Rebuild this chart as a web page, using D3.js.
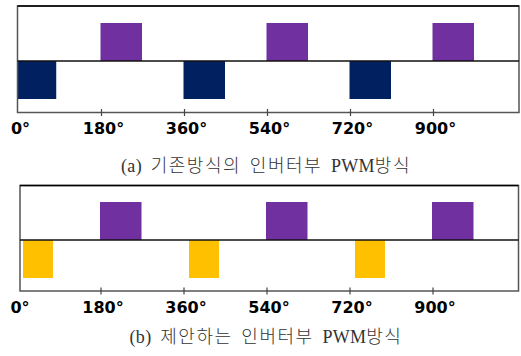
<!DOCTYPE html>
<html>
<head>
<meta charset="utf-8">
<script src="https://cdn.jsdelivr.net/npm/d3@7"></script>
<style>
  body { margin: 0; background: #fff; }
  svg { display: block; }
</style>
</head>
<body>
<div id="chart"></div>
<script>
// angles (deg) and labels on the bottom axis
const tickAngles = [0, 180, 360, 540, 720, 900];
const tickLabels = ["0°", "180°", "360°", "540°", "720°", "900°"];

// pulses as [start, end] in degrees
const upperA = [[180, 270], [540, 630], [900, 990]];
const lowerA = [[0, 84], [360, 450], [720, 810]];
const upperB = [[180, 270], [540, 630], [900, 990]];
const lowerB = [[13, 78], [373, 438], [733, 798]];

const captionA = "(a) 기존방식의 인버터부 PWM방식";
const captionB = "(b) 제안하는 인버터부 PWM방식";

const W = 521, H = 356;
const svg = d3.select('#chart').append('svg')
  .attr('width', W)
  .attr('height', H);

// panel layouts
const panels = [
  {upper: upperA, lower: lowerA, lowColor: '#002060', caption: captionA,
   box: {l: 17.5, r: 519, t: 6, b: 112.5}, mid: 61, amp: 38,
   x0: 17.5, labelY: 134, capY: 172},
  {upper: upperB, lower: lowerB, lowColor: '#FFC000', caption: captionB,
   box: {l: 20, r: 518.5, t: 185.5, b: 291}, mid: 240, amp: 38,
   x0: 17, labelY: 313, capY: 343}
];

// split a caption into hangul / other runs
function runs(str){
  return str.match(/[\uAC00-\uD7A3]+|[^\uAC00-\uD7A3]+/g)
    .map(s => ({text: s, ko: /[\uAC00-\uD7A3]/.test(s)}));
}

panels.forEach(function(p){
  const x = d3.scaleLinear()
    .domain([0, 1080])
    .range([p.x0, p.x0 + 6 * 83]);
  const y = d3.scaleLinear()
    .domain([-1, 1])
    .range([p.mid + p.amp, p.mid - p.amp]);

  const g = svg.append('g');

  // pulses above the line
  g.selectAll('.up')
    .data(p.upper)
    .enter()
    .append('rect')
    .attr('x', d => x(d[0]))
    .attr('width', d => x(d[1]) - x(d[0]))
    .attr('y', y(1))
    .attr('height', y(0) - y(1))
    .style('fill', '#7030A0');

  // pulses below the line
  g.selectAll('.low')
    .data(p.lower)
    .enter()
    .append('rect')
    .attr('x', d => x(d[0]))
    .attr('width', d => x(d[1]) - x(d[0]))
    .attr('y', y(0))
    .attr('height', y(-1) - y(0))
    .style('fill', p.lowColor);

  // frame
  g.append('rect')
    .attr('x', p.box.l)
    .attr('y', p.box.t)
    .attr('width', p.box.r - p.box.l)
    .attr('height', p.box.b - p.box.t)
    .style('fill', 'none')
    .style('stroke', '#555')
    .style('stroke-width', 1.5);
  g.append('line')
    .attr('x1', p.box.l).attr('x2', p.box.r)
    .attr('y1', p.box.t).attr('y2', p.box.t)
    .style('stroke', '#000')
    .style('stroke-width', 1.5);

  // zero line
  g.append('line')
    .attr('x1', p.box.l).attr('x2', p.box.r)
    .attr('y1', y(0)).attr('y2', y(0))
    .style('stroke', '#111')
    .style('stroke-width', 1.5);

  // tick marks
  g.selectAll('.tick')
    .data(tickAngles.slice(1))
    .enter()
    .append('line')
    .attr('x1', d => x(d) + 1).attr('x2', d => x(d) + 1)
    .attr('y1', p.box.b - 3.5).attr('y2', p.box.b + 3.5)
    .style('stroke', '#444')
    .style('stroke-width', 1.2);

  // tick labels
  g.selectAll('.lab')
    .data(tickAngles)
    .enter()
    .append('text')
    .attr('x', d => x(d) + 3)
    .attr('y', p.labelY)
    .attr('text-anchor', 'middle')
    .style('font-family', '"DejaVu Sans", sans-serif')
    .style('font-weight', 'bold')
    .style('font-size', '16px')
    .style('fill', '#000')
    .text((d, i) => tickLabels[i]);

  // caption
  const cap = g.append('text')
    .attr('x', 266)
    .attr('y', p.capY)
    .attr('text-anchor', 'middle')
    .style('font-family', '"Liberation Serif", "Noto Sans CJK KR", serif')
    .style('font-size', '18px')
    .style('fill', '#333');
  cap.selectAll('tspan')
    .data(runs(p.caption))
    .enter()
    .append('tspan')
    .style('font-family', d => d.ko ? '"Noto Sans CJK KR", sans-serif' : null)
    .style('font-weight', d => d.ko ? 300 : null)
    .style('letter-spacing', d => d.ko ? '1.5px' : '0.3px')
    .style('word-spacing', '4px')
    .text(d => d.text);
});
</script>
</body>
</html>
